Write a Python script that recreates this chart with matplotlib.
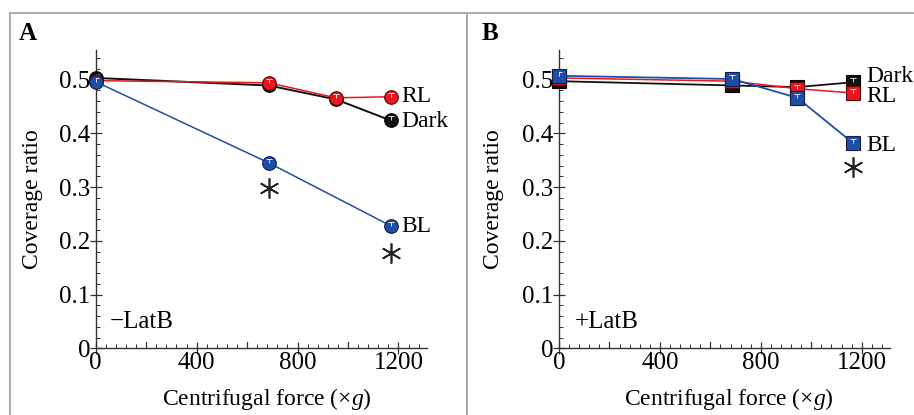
import matplotlib
matplotlib.use("Agg")
import matplotlib.pyplot as plt
from matplotlib.lines import Line2D
from matplotlib.ticker import MultipleLocator, FixedLocator

plt.rcParams['font.family'] = ['Liberation Serif', 'DejaVu Serif']
plt.rcParams['mathtext.fontset'] = 'custom'
plt.rcParams['mathtext.rm'] = 'Liberation Serif'
plt.rcParams['mathtext.it'] = 'Liberation Serif:italic'

# ---- data ----
force_a = [0, 686, 953, 1169]
dark_a = [0.503, 0.489, 0.463, 0.424]
rl_a = [0.498, 0.494, 0.466, 0.468]
bl_a = [0.496, 0.345, None, 0.228]

force_b = [0, 687, 945, 1165]
dark_b = [0.497, 0.489, 0.486, 0.495]
rl_b = [0.503, 0.497, 0.483, 0.475]
bl_b = [0.507, 0.501, 0.466, 0.382]

err = 0.0075
series_names = ["Dark", "RL", "BL"]
panel_letters = ["A", "B"]
panel_notes = ["\u2212LatB", "+LatB"]
star_a_x = [686, 1169]
star_a_y = [0.298, 0.178]
star_b_x = [1165]
star_b_y = [0.338]
x_ticks = [0, 400, 800, 1200]
y_ticks = [0, 0.1, 0.2, 0.3, 0.4, 0.5]
y_tick_labels = ["0", "0.1", "0.2", "0.3", "0.4", "0.5"]

colors = {"Dark": "#111111", "RL": "#e8161d", "BL": "#1f4ea6"}
edges = {"Dark": "#000000", "RL": "#5a0a0a", "BL": "#0d1f45"}

W, H = 914, 415
fig = plt.figure(figsize=(W / 100, H / 100), dpi=100)

def fx(px):
    return px / W

def fy(py):
    return 1 - py / H

ax_a = fig.add_axes([fx(95.7), fy(348.3), fx(426.7) - fx(95.7), fy(50) - fy(348.3)])
ax_b = fig.add_axes([fx(559), fy(348.3), fx(890) - fx(559), fy(50) - fy(348.3)])

def style(ax, ylab_x):
    ax.set_xlim(0, 1312)
    ax.set_ylim(0, 0.555)
    for s in ["top", "right"]:
        ax.spines[s].set_visible(False)
    for s in ["left", "bottom"]:
        ax.spines[s].set_color("#333333")
        ax.spines[s].set_linewidth(1.0)
    ax.xaxis.set_major_locator(FixedLocator(x_ticks))
    ax.xaxis.set_minor_locator(MultipleLocator(40))
    ax.yaxis.set_major_locator(FixedLocator(y_ticks))
    ax.set_yticklabels(y_tick_labels)
    ax.yaxis.set_minor_locator(MultipleLocator(0.02))
    ax.tick_params(which="major", direction="inout", length=8, width=0.9,
                   color="#333333", labelsize=18, pad=0)
    ax.tick_params(axis="x", which="major", pad=-1)
    ax.tick_params(which="minor", direction="in", length=3, width=0.7, color="#333333")
    for xv in [200, 600, 1000]:
        ax.plot([xv, xv], [0, 0.012], color="#333333", lw=0.9, clip_on=False, zorder=1)
    ax.set_ylabel("Coverage ratio", fontsize=17)
    ax.yaxis.set_label_coords(ylab_x, 0.5)

def draw(ax, xs, ys, name, marker, ms, lw, z):
    pts = [(x, y) for x, y in zip(xs, ys) if y is not None]
    px = [p[0] for p in pts]
    py = [p[1] for p in pts]
    ax.plot(px, py, color=colors[name], lw=lw, zorder=z, clip_on=False)
    ax.plot(px, py, ls="none", marker=marker, ms=ms, mfc=colors[name],
            mec=edges[name], mew=0.8, zorder=z + 0.1, clip_on=False)
    # white "T" error bars (upper only)
    ax.vlines(px, py, [v + err for v in py], colors="white", lw=0.7,
              zorder=z + 0.2, alpha=0.85)
    ax.plot(px, [v + err for v in py], ls="none", marker="_", ms=4.5, mew=0.7,
            color="white", alpha=0.85, zorder=z + 0.2)

style(ax_a, -0.16)
style(ax_b, -0.165)

draw(ax_a, force_a, dark_a, "Dark", "o", 9.8, 1.4, 3)
draw(ax_a, force_a, rl_a, "RL", "o", 9.8, 1.1, 4)
draw(ax_a, force_a, bl_a, "BL", "o", 9.8, 1.1, 5)

draw(ax_b, force_b, dark_b, "Dark", "s", 10, 1.3, 3)
draw(ax_b, force_b, rl_b, "RL", "s", 10, 1.1, 4)
draw(ax_b, force_b, bl_b, "BL", "s", 10, 1.3, 5)

lab_kw = dict(textcoords="offset pixels", fontsize=17, va="center", ha="left",
              annotation_clip=False)
ax_a.annotate("RL", (force_a[-1], rl_a[-1]), xytext=(11, 0), **lab_kw)
ax_a.annotate("Dark", (force_a[-1], dark_a[-1]), xytext=(11, -1), **lab_kw)
ax_a.annotate("BL", (force_a[-1], bl_a[-1]), xytext=(11, -1), **lab_kw)
ax_b.annotate("Dark", (force_b[-1], dark_b[-1]), xytext=(13, 6), **lab_kw)
ax_b.annotate("RL", (force_b[-1], rl_b[-1]), xytext=(13, -4), **lab_kw)
ax_b.annotate("BL", (force_b[-1], bl_b[-1]), xytext=(13, -3), **lab_kw)

# asterisks (six-armed)
ax_a.plot(star_a_x, star_a_y, ls="none", marker=(6, 2, 0), ms=14.5, mew=1.2,
          color="#222222", clip_on=False)
ax_b.plot(star_b_x, star_b_y, ls="none", marker=(6, 2, 0), ms=14.5, mew=1.2,
          color="#222222", clip_on=False)

ax_a.text(57, 0.049, panel_notes[0], fontsize=18, va="center", ha="left")
ax_b.text(63, 0.049, panel_notes[1], fontsize=18, va="center", ha="left")

xlabel = "Centrifugal force (\u00d7$g$)"
fig.text(fx(267), fy(399), xlabel, fontsize=17, va="center", ha="center")
fig.text(fx(729), fy(399), xlabel, fontsize=17, va="center", ha="center")

fig.text(fx(19), fy(33), panel_letters[0], fontsize=18, fontweight="bold", va="center", ha="left")
fig.text(fx(482), fy(33), panel_letters[1], fontsize=18, fontweight="bold", va="center", ha="left")

# frame lines
gray = "#aaaaaa"
fig.add_artist(Line2D([fx(10), fx(913)], [fy(13), fy(13)], color=gray, lw=1.4))
fig.add_artist(Line2D([fx(10), fx(10)], [0, fy(13)], color=gray, lw=1.4))
fig.add_artist(Line2D([fx(466.7), fx(466.7)], [0, fy(13)], color=gray, lw=1.4))

fig.savefig("out.png", dpi=100)
